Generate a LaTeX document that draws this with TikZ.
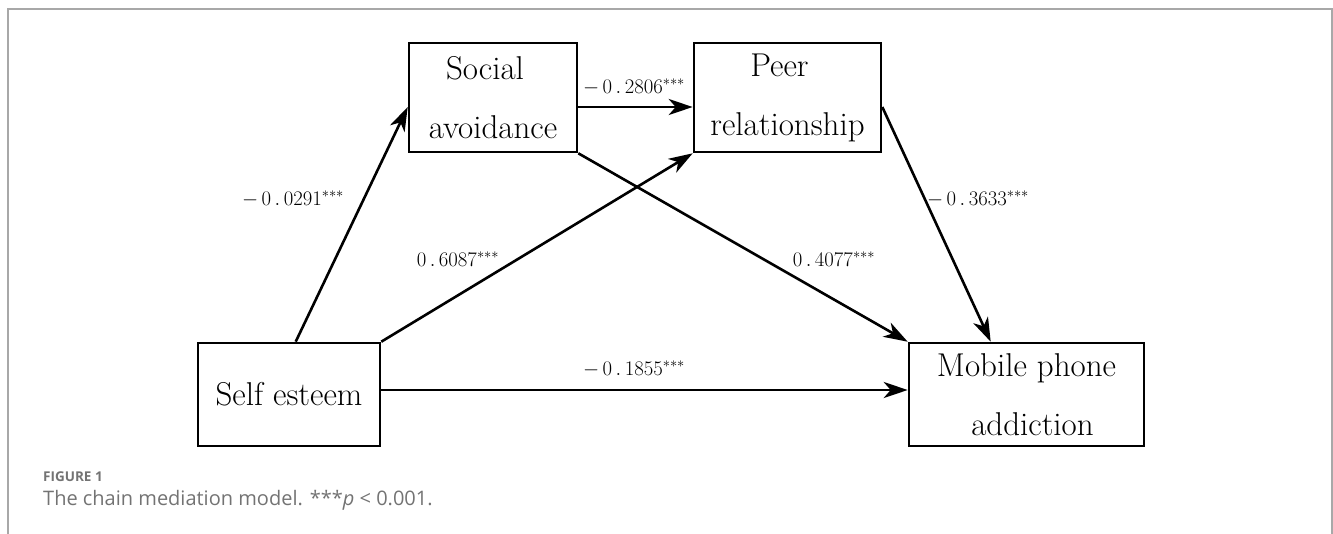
\documentclass[tikz,border=0pt]{standalone}
\usepackage{fontspec}
\newfontfamily\capfont{Open Sans}
\usetikzlibrary{arrows.meta,calc}
\definecolor{framegray}{HTML}{A8A8A8}
\definecolor{capgray}{HTML}{737373}
\newcommand{\coef}[2]{$#1\mkern3mu #2^{***}$}
\begin{document}
\begin{tikzpicture}[x=1pt,y=-1pt,
  box/.style={draw,line width=2.6pt,inner sep=0pt,align=center,font=\fontsize{33}{59}\selectfont},
  arr/.style={line width=2.6pt,-{Stealth[length=24pt,width=16pt,inset=7pt]}},
  lab/.style={font=\fontsize{21.5}{25}\selectfont,inner sep=0pt}]
\useasboundingbox (0,0) rectangle (1333,533);
\draw[framegray,line width=2pt] (8,540) -- (8,9) -- (1332,9) -- (1332,540);

\node[box,minimum width=168pt,minimum height=109pt] (sa) at (493,97.5) {Social\kern16pt\\avoidance};
\node[box,minimum width=187pt,minimum height=109pt] (pr) at (787.5,97.5) {Peer\kern16pt\\relationship};
\node[box,minimum width=182pt,minimum height=103pt] (se) at (289,394.5) {Self esteem};
\node[box,minimum width=235pt,minimum height=103pt] (mp) at (1026.5,394.5) {Mobile phone\\\kern12pt addiction};

\draw[arr] ($(se.north west)+(99,0)$) -- ($(sa.west)+(0,9.5)$);
\draw[arr] (se.north east) -- (pr.south west);
\draw[arr] ($(sa.east)+(0,9.5)$) -- ($(pr.west)+(0,9.5)$);
\draw[arr] (sa.south east) -- (mp.north west);
\draw[arr] ($(pr.east)+(0,9.5)$) -- ($(mp.north west)+(83,0)$);
\draw[arr] ($(se.east)+(0,-4.5)$) -- ($(mp.west)+(0,-4.5)$);

\node[lab] (l1) at (293,199) {$-\mkern3mu 0\mkern3mu.\mkern3mu 0291^{***}$};
\node[lab] (l2) at (458,259) {$0\mkern3mu.\mkern3mu 6087^{***}$};
\node[lab] (l3) at (634,87) {$-\mkern3mu 0\mkern3mu.\mkern3mu 2806^{***}$};
\node[lab] (l4) at (978,199) {$-\mkern3mu 0\mkern3mu.\mkern3mu 3633^{***}$};
\node[lab] (l5) at (834,259) {$0\mkern3mu.\mkern3mu 4077^{***}$};
\node[lab] (l6) at (634,369) {$-\mkern3mu 0\mkern3mu.\mkern3mu 1855^{***}$};

\node[anchor=base west,font=\capfont\bfseries\fontsize{13.5}{16}\selectfont,text=capgray,inner sep=0pt] (fig) at (43,481) {FIGURE 1};
\node[anchor=base west,font=\capfont\fontsize{20}{24}\selectfont,text=capgray,inner sep=0pt] (cap) at (43,505) {The chain mediation model. ***\textit{p} < 0.001.};
\end{tikzpicture}
\end{document}
